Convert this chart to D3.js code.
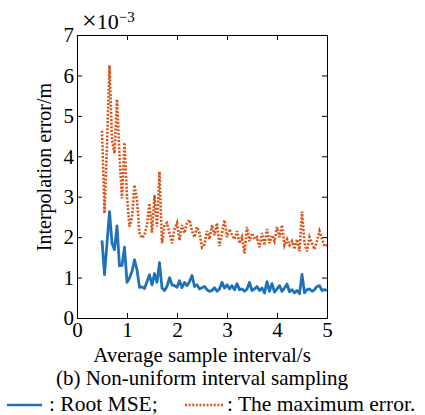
<!DOCTYPE html>
<html>
<head>
<meta charset="utf-8">
<script src="https://cdn.jsdelivr.net/npm/d3@7"></script>
<style>
  body { margin: 0; background: #fff; }
  svg { display: block; }
  svg text { font-family: 'Liberation Serif', 'Times New Roman', serif; }
</style>
</head>
<body>
<svg width="425" height="415"></svg>
<script>
// sample interval (s), 0.5 .. 5.0
var intervals = [0.50,0.55,0.60,0.65,0.70,0.75,0.80,0.85,0.90,0.95,
  1.00,1.05,1.10,1.15,1.20,1.25,1.30,1.35,1.40,1.45,
  1.50,1.55,1.60,1.65,1.70,1.75,1.80,1.85,1.90,1.95,
  2.00,2.05,2.10,2.15,2.20,2.25,2.30,2.35,2.40,2.45,
  2.50,2.55,2.60,2.65,2.70,2.75,2.80,2.85,2.90,2.95,
  3.00,3.05,3.10,3.15,3.20,3.25,3.30,3.35,3.40,3.45,
  3.50,3.55,3.60,3.65,3.70,3.75,3.80,3.85,3.90,3.95,
  4.00,4.05,4.10,4.15,4.20,4.25,4.30,4.35,4.40,4.45,
  4.50,4.55,4.60,4.65,4.70,4.75,4.80,4.85,4.90,4.95,5.00];

// root MSE (x1e-3 m)
var rootMSE = [1.92,1.07,1.85,2.63,1.85,1.69,2.28,1.29,1.30,1.75,
  0.88,0.99,1.15,1.44,1.19,0.76,0.77,0.73,0.90,1.07,
  0.82,1.10,0.88,1.37,0.74,0.68,0.78,1.00,0.82,0.80,
  0.76,0.92,0.75,0.88,0.80,0.90,1.05,0.78,0.82,0.72,
  0.75,0.78,0.70,0.66,0.68,0.75,0.66,0.72,0.88,0.74,
  0.82,0.72,0.80,0.70,0.85,0.70,0.72,0.66,0.72,0.88,
  0.68,0.72,0.78,0.68,0.74,0.62,0.90,0.66,0.85,0.64,
  0.72,0.80,0.66,0.74,0.84,0.65,0.70,0.62,0.68,0.60,
  1.08,0.62,0.70,0.72,0.66,0.70,0.78,0.80,0.68,0.70,0.68];

// maximum error (x1e-3 m)
var maxError = [4.63,2.59,4.30,6.25,4.40,4.07,5.41,4.00,2.96,4.34,
  3.00,2.26,2.50,3.29,2.90,2.10,1.98,2.05,2.30,2.84,
  2.11,3.04,2.26,3.62,1.85,2.30,2.35,2.10,1.85,2.20,
  2.35,1.92,2.30,2.10,2.35,2.43,2.15,2.00,2.25,2.10,
  1.75,1.82,2.15,1.95,2.30,2.05,2.35,1.78,2.10,2.42,
  2.00,2.20,2.05,1.95,2.15,1.85,2.00,1.60,2.25,1.90,
  2.10,1.95,2.00,1.75,2.10,1.80,2.20,1.85,2.05,1.90,
  2.25,2.00,2.30,1.80,1.95,1.80,1.90,1.70,1.95,1.65,
  2.63,1.85,1.65,2.00,1.85,1.70,1.90,2.15,1.95,1.77,1.80];

var xTicks = [0,1,2,3,4,5];
var yTicks = [0,1,2,3,4,5,6,7];

var margin = {left: 77, top: 35, right: 98, bottom: 97};
var width = 425 - margin.left - margin.right;
var height = 415 - margin.top - margin.bottom;
var fontSize = 21;

var svg = d3.select('svg');
var g = svg.append('g')
  .attr('transform', 'translate(' + margin.left + ',' + margin.top + ')');

var x = d3.scaleLinear().domain([0, 5]).range([0, width]);
var y = d3.scaleLinear().domain([0, 7]).range([height, 0]);

// axes, ticks inward on all four sides
function styleAxis(sel) {
  sel.attr('font-family', null).attr('font-size', null);
  sel.selectAll('path').attr('stroke', '#000').attr('stroke-width', 1);
  sel.selectAll('line').attr('stroke', '#000');
  sel.selectAll('text').style('font-size', fontSize + 'px').attr('fill', '#000');
}

g.append('g')
  .attr('transform', 'translate(0,' + height + ')')
  .call(d3.axisBottom(x).tickValues(xTicks).tickFormat(d3.format('d'))
    .tickSize(-5).tickPadding(4).tickSizeOuter(0))
  .call(styleAxis);

g.append('g')
  .call(d3.axisLeft(y).tickValues(yTicks).tickFormat(d3.format('d'))
    .tickSize(-5).tickPadding(3).tickSizeOuter(0))
  .call(styleAxis);

g.append('g')
  .call(d3.axisTop(x).tickValues(xTicks).tickSize(-5).tickFormat('').tickSizeOuter(0))
  .call(styleAxis);

g.append('g')
  .attr('transform', 'translate(' + width + ',0)')
  .call(d3.axisRight(y).tickValues(yTicks).tickSize(-5).tickFormat('').tickSizeOuter(0))
  .call(styleAxis);

// lines
var line = d3.line()
  .x(function(d, i){ return x(intervals[i]); })
  .y(function(d){ return y(d); });

g.append('path')
  .datum(maxError)
  .attr('fill', 'none')
  .attr('stroke', '#D95319')
  .attr('stroke-width', 2.6)
  .attr('stroke-dasharray', '2,1.6')
  .attr('d', line);

g.append('path')
  .datum(rootMSE)
  .attr('fill', 'none')
  .attr('stroke', '#1F72B8')
  .attr('stroke-width', 2.8)
  .attr('stroke-linejoin', 'round')
  .attr('d', line);

// exponent label
var expo = svg.append('text')
  .attr('x', 82)
  .attr('y', 29)
  .style('font-size', '22px');
expo.append('tspan').style('font-size', '26px').text('\u00d7');
expo.append('tspan').text('10');
expo.append('tspan').attr('dy', -7).style('font-size', '15px').text('\u22123');

// axis titles
svg.append('text')
  .attr('transform', 'translate(51,167) rotate(-90)')
  .attr('text-anchor', 'middle')
  .style('font-size', '20px')
  .text('Interpolation error/m');

svg.append('text')
  .attr('x', 202)
  .attr('y', 362)
  .attr('text-anchor', 'middle')
  .style('font-size', fontSize + 'px')
  .text('Average sample interval/s');

svg.append('text')
  .attr('x', 202)
  .attr('y', 385)
  .attr('text-anchor', 'middle')
  .style('font-size', fontSize + 'px')
  .text('(b) Non-uniform interval sampling');

// legend
var legend = [
  {name: ': Root MSE;', color: '#1F72B8', dash: null, x0: 7, x1: 42, tx: 49},
  {name: ': The maximum error.', color: '#D95319', dash: '2,1.6', x0: 185, x1: 224, tx: 227}
];

legend.forEach(function(d){
  svg.append('line')
    .attr('x1', d.x0).attr('x2', d.x1)
    .attr('y1', 405).attr('y2', 405)
    .attr('stroke', d.color)
    .attr('stroke-width', 2.6)
    .attr('stroke-dasharray', d.dash);
  svg.append('text')
    .attr('x', d.tx)
    .attr('y', 411)
    .style('font-size', '21.5px')
    .text(d.name);
});
</script>
</body>
</html>
